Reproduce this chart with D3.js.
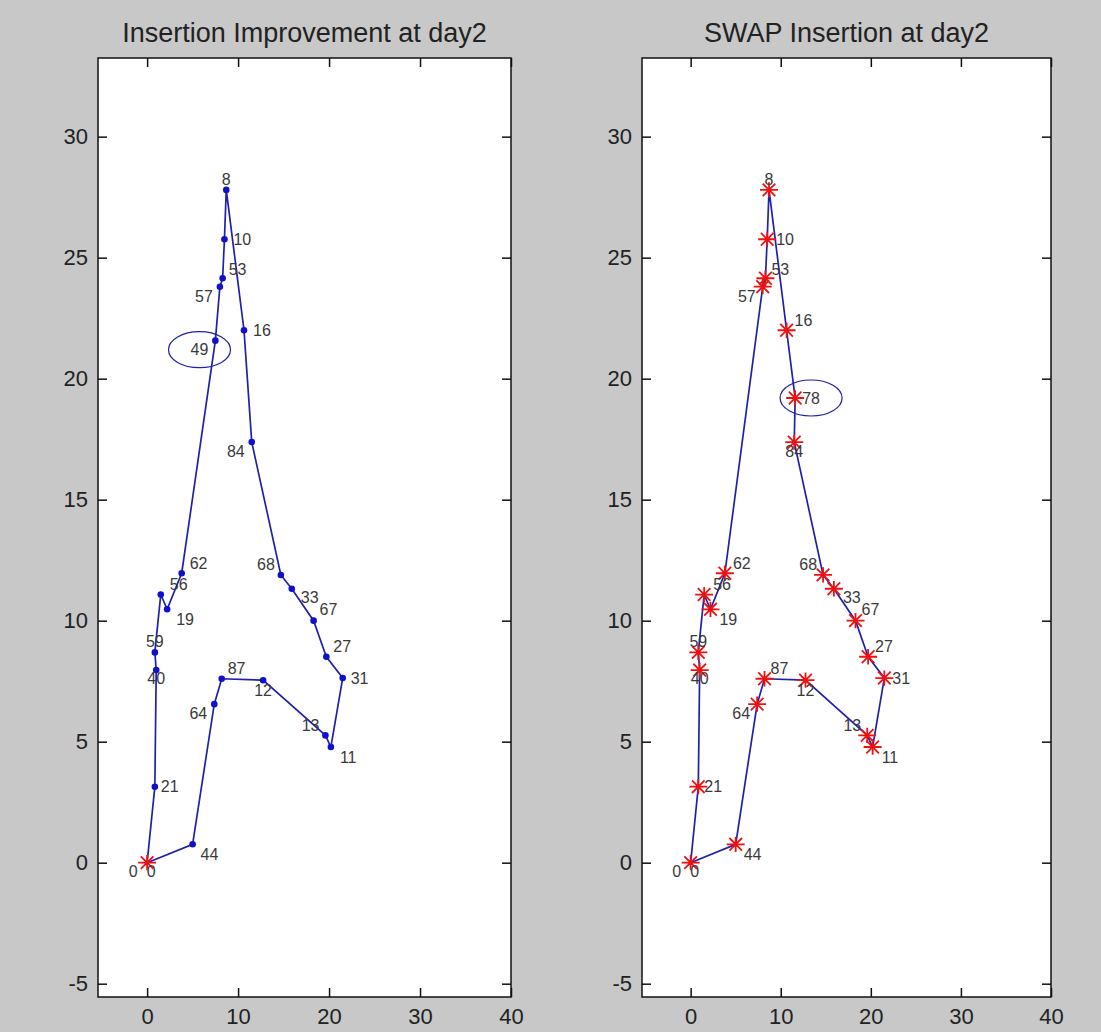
<!DOCTYPE html>
<html>
<head>
<meta charset="utf-8">
<script src="https://cdn.jsdelivr.net/npm/d3@7"></script>
<style>
  body { margin: 0; background: #c8c8c8; }
  svg { display: block; font-family: "Liberation Sans", Arial, sans-serif; }
</style>
</head>
<body>
<div id="chart"></div>
<script>
// customer nodes (id, x, y)
const nodeIds = [0, 21, 40, 59, 56, 19, 62, 49, 57, 53, 10, 8, 16, 78, 84, 68, 33, 67, 27, 31, 11, 13, 12, 87, 64, 44];
const nodeX   = [0, 0.85, 1.0, 0.85, 1.5, 2.2, 3.8, 7.5, 8.0, 8.3, 8.5, 8.7, 10.65, 11.6, 11.5, 14.7, 15.9, 18.3, 19.7, 21.5, 20.2, 19.6, 12.75, 8.2, 7.38, 5.0];
const nodeY   = [0, 3.14, 7.96, 8.69, 11.08, 10.47, 11.96, 21.57, 23.8, 24.15, 25.76, 27.8, 22.0, 19.2, 17.38, 11.89, 11.32, 10.0, 8.51, 7.63, 4.78, 5.26, 7.54, 7.6, 6.55, 0.76];

// tours for each panel
const routeImprove = [0, 21, 40, 59, 56, 19, 62, 49, 57, 53, 10, 8, 16, 84, 68, 33, 67, 27, 31, 11, 13, 12, 87, 64, 44, 0];
const routeSwap    = [0, 21, 40, 59, 56, 19, 62, 57, 53, 10, 8, 16, 78, 84, 68, 33, 67, 27, 31, 11, 13, 12, 87, 64, 44, 0];

const titles = ["Insertion Improvement at day2", "SWAP Insertion at day2"];
const circledNode = [49, 78];
const xTicks = [0, 10, 20, 30, 40];
const yTicks = [-5, 0, 5, 10, 15, 20, 25, 30];
const xDomain = [-5.4, 40];
const yDomain = [-5.55, 33.25];

// where each number label sits next to its point: [anchor, dx, dy] in px
const labelPlace = {
  8: ["middle", 0, -10], 10: ["start", 9, 0], 53: ["start", 6, -9], 57: ["end", -7, 10],
  16: ["start", 9, 0], 49: ["end", -7, 9], 78: ["start", 7, 0], 84: ["end", -7, 9],
  68: ["end", -6, -10], 33: ["start", 9, 9], 67: ["start", 6, -11], 27: ["start", 7, -10],
  31: ["start", 8, 0], 11: ["start", 9, 10], 13: ["end", -6, -10], 12: ["middle", 0, 10],
  87: ["start", 6, -10], 64: ["end", -7, 9], 44: ["start", 8, 10], 21: ["start", 6, 0],
  40: ["middle", 0, 8], 59: ["middle", 0, -11], 19: ["start", 9, 10], 56: ["start", 9, -10],
  62: ["start", 8, -10]
};
const swapPlace = { 84: ["middle", 0, 9], 16: ["start", 8, -10] };

const width = 1101, height = 1032;
const plotTop = 58, plotBottom = 997;
const lineColor = "#2020ac";

const svg = d3.select("#chart").append("svg")
  .attr("width", width)
  .attr("height", height);

svg.append("rect").attr("width", width).attr("height", height).attr("fill", "#c8c8c8");

const nodeById = new Map(nodeIds.map((id, i) => [id, { id, x: nodeX[i], y: nodeY[i] }]));

const panels = [
  { title: titles[0], route: routeImprove, left: 98, right: 511, allStars: false, place: labelPlace, circle: circledNode[0] },
  { title: titles[1], route: routeSwap, left: 642, right: 1051, allStars: true, place: Object.assign({}, labelPlace, swapPlace), circle: circledNode[1] }
];

function starPath(r) {
  const a = r * 0.7;
  return `M${-r},0H${r}M0,${-r * 0.85}V${r * 0.85}M${-a},${-a}L${a},${a}M${-a},${a}L${a},${-a}`;
}

panels.forEach(p => {
  const x = d3.scaleLinear().domain(xDomain).range([p.left, p.right]);
  const y = d3.scaleLinear().domain(yDomain).range([plotBottom, plotTop]);
  const g = svg.append("g");

  g.append("rect")
    .attr("x", p.left).attr("y", plotTop)
    .attr("width", p.right - p.left).attr("height", plotBottom - plotTop)
    .attr("fill", "#fff");

  // axes, ticks pointing inward on all four sides
  const axisStyle = sel => {
    sel.select(".domain").remove();
    sel.selectAll(".tick line").attr("stroke", "#111").attr("stroke-width", 1.5);
    sel.selectAll("text").attr("font-size", 22).attr("fill", "#222").attr("font-family", null);
  };
  const plain = d => String(d);
  g.append("g").attr("transform", `translate(0,${plotBottom})`)
    .call(d3.axisBottom(x).tickValues(xTicks).tickFormat(plain).tickSize(-9).tickPadding(0))
    .call(axisStyle)
    .call(s => s.selectAll("text").attr("y", 19).attr("dy", "0.35em"));
  g.append("g").attr("transform", `translate(0,${plotTop})`)
    .call(d3.axisTop(x).tickValues(xTicks).tickSize(-9).tickFormat(""))
    .call(axisStyle);
  g.append("g").attr("transform", `translate(${p.left},0)`)
    .call(d3.axisLeft(y).tickValues(yTicks).tickFormat(plain).tickSize(-9).tickPadding(10))
    .call(axisStyle);
  g.append("g").attr("transform", `translate(${p.right},0)`)
    .call(d3.axisRight(y).tickValues(yTicks).tickSize(-9).tickFormat(""))
    .call(axisStyle);

  g.append("rect")
    .attr("x", p.left).attr("y", plotTop)
    .attr("width", p.right - p.left).attr("height", plotBottom - plotTop)
    .attr("fill", "none").attr("stroke", "#111").attr("stroke-width", 1.5);

  g.append("text")
    .attr("x", (p.left + p.right) / 2).attr("y", 42)
    .attr("text-anchor", "middle")
    .attr("font-size", 27).attr("fill", "#222")
    .text(p.title);

  const pts = p.route.map(id => nodeById.get(id));

  g.append("path")
    .datum(pts)
    .attr("fill", "none")
    .attr("stroke", lineColor)
    .attr("stroke-width", 1.7)
    .attr("d", d3.line().x(d => x(d.x)).y(d => y(d.y)));

  const visited = pts.slice(0, -1);

  if (!p.allStars) {
    g.append("g").selectAll("circle")
      .data(visited.filter(d => d.id !== 0))
      .join("circle")
      .attr("cx", d => x(d.x)).attr("cy", d => y(d.y))
      .attr("r", 3.3).attr("fill", "#1010cc");
  }

  g.append("g").selectAll("path")
    .data(p.allStars ? visited : visited.filter(d => d.id === 0))
    .join("path")
    .attr("transform", d => `translate(${x(d.x)},${y(d.y)})`)
    .attr("d", starPath(9))
    .attr("stroke", "#ee1111").attr("stroke-width", 1.8).attr("fill", "none");

  // number labels
  const labels = g.append("g")
    .attr("font-size", 16).attr("fill", "#3a3a3a");

  labels.selectAll("text.num")
    .data(visited.filter(d => d.id !== 0))
    .join("text")
    .attr("class", "num")
    .attr("x", d => x(d.x) + p.place[d.id][1])
    .attr("y", d => y(d.y) + p.place[d.id][2])
    .attr("text-anchor", d => p.place[d.id][0])
    .attr("dominant-baseline", "central")
    .text(d => d.id);

  // depot is labelled twice (start and end of the tour)
  const depot = nodeById.get(0);
  labels.selectAll("text.depot")
    .data([-14, 4])
    .join("text")
    .attr("class", "depot")
    .attr("x", dx => x(depot.x) + dx)
    .attr("y", y(depot.y) + 9)
    .attr("text-anchor", "middle")
    .attr("dominant-baseline", "central")
    .text("0");

  // ellipse round the newly placed node's label
  const target = labels.selectAll("text.num").filter(d => d.id === p.circle);
  const bb = target.node().getBBox();
  g.append("ellipse")
    .attr("cx", bb.x + bb.width / 2)
    .attr("cy", bb.y + bb.height / 2)
    .attr("rx", 31).attr("ry", 18)
    .attr("fill", "none")
    .attr("stroke", lineColor)
    .attr("stroke-width", 1.2);
});
</script>
</body>
</html>
